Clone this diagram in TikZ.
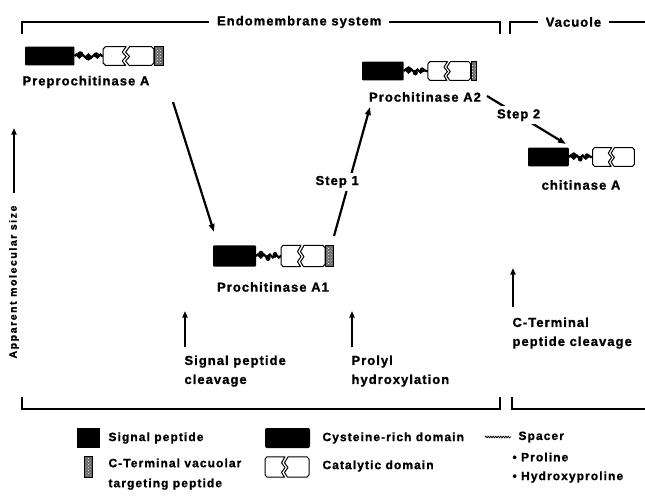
\documentclass[tikz,border=0pt]{standalone}
\usepackage{fontspec}
\setmainfont{Liberation Sans}
\newfontfamily\labfont[LetterSpace=8, BoldFeatures={FakeBold=1.2}]{Liberation Sans}
\newfontfamily\legfont[LetterSpace=9, BoldFeatures={FakeBold=1.2}]{Liberation Sans}
\newfontfamily\axfont[LetterSpace=15, BoldFeatures={FakeBold=1.2}]{Liberation Sans}
\usetikzlibrary{arrows.meta, positioning, patterns, decorations.pathmorphing}
\tikzset{
  every picture/.style={line width=1pt},
  lab/.style={font=\fontsize{13}{19}\selectfont\labfont\bfseries, inner sep=0pt, align=left},
  leg/.style={font=\fontsize{12}{20}\selectfont\legfont\bfseries, inner sep=0pt, align=left, anchor=west},
  arr/.style={-{Triangle[length=8pt, width=5.5pt]}, line width=2.2pt},
  ann/.style={-{Triangle[length=6.5pt, width=5pt]}, line width=1.8pt},
  brk/.style={line width=1.1pt},
  % black block + spacer + catalytic domain
  pics/core/.style={code={
    \fill[rounded corners=1pt] (0,-8.5) rectangle (43,8.5);
    \draw[line width=2.2pt, decorate, decoration={snake, amplitude=1.5pt, segment length=6pt}] (43,0) -- (68,0);
    \fill (48,-1.5) circle (2.8) (55,1.5) circle (2.6) (62,-1) circle (2.4);
    \draw[fill=white, line join=round] (68,-6.5) -- (70,-8.5) -- (88,-8.5) -- (84.5,-3.5) -- (88,0.5) -- (84.5,4.5) -- (87.5,8.5) -- (70,8.5) -- (68,6.5) -- cycle;
    \draw[fill=white, line join=round] (91,-8.5) -- (110,-8.5) -- (112,-6.5) -- (112,6.5) -- (110,8.5) -- (90.5,8.5) -- (87.5,4.5) -- (91,0.5) -- (87.5,-3.5) -- cycle;
  }},
  % C-terminal vacuolar targeting peptide
  pics/tail/.style={code={
    \draw[fill=black!60] (0,-8.5) rectangle (8,8.5);
    \path[pattern=crosshatch dots, pattern color=white] (1.5,-7) rectangle (6.5,7);
  }},
}

\begin{document}
\begin{tikzpicture}[x=1pt, y=-1pt]
  \useasboundingbox (0,0) rectangle (645,499);
  % ---------- compartments
  \draw[brk] (22,34) -- (22,22) -- node[pos=.58, lab, fill=white, inner xsep=8pt] (endo) {Endomembrane system} (500,22) -- (500,34);
  \draw[brk] (510,34) -- (510,22) -- node[pos=.47, lab, fill=white, inner xsep=8pt] (vac) {Vacuole} (645,22);
  \draw[brk] (22,397) |- (500,409) -- (500,397);
  \draw[brk] (512,397) |- (645,409);
  % ---------- proteins
  \pic[xscale=1.15, yscale=1.1] at (25,56) {core};
  \pic[xscale=1.15, yscale=1.1] at (154,56) {tail};
  \node[lab, anchor=west] (pre) at (22,82) {Preprochitinase A};
  \pic[yscale=1.25] at (213,256) {core};
  \pic[yscale=1.25] at (325,256) {tail};
  \node[lab] (pA1) at (273,287) {Prochitinase A1};
  \pic[xscale=0.97, yscale=1.1] at (362,71) {core};
  \pic[xscale=0.7, yscale=1.1] at (471,71) {tail};
  \node[lab] (pA2) at (425,97) {Prochitinase A2};
  \pic[xscale=0.95, yscale=1.1] at (528,157) {core};
  \node[lab] (chiA) at (581,185) {chitinase A};
  % ---------- processing steps
  \coordinate (preS) at (173,102);
  \coordinate (a1N) at (214,232);
  \coordinate (a1T) at (334,236);
  \coordinate (a2B) at (370,107);
  \coordinate (a2R) at (487,96);
  \coordinate (chiN) at (566,144);
  \draw[arr] (preS) -- (a1N);
  \draw[arr] (a1T) -- node[pos=.42, lab, fill=white, inner sep=3pt, xshift=-12pt] (st1) {Step 1} (a2B);
  \draw[arr] (a2R) -- node[pos=.4, lab, fill=white, inner sep=3pt] (st2) {Step 2} (chiN);
  % ---------- events
  \node[lab, anchor=north west] (sigc) at (184,355) {Signal peptide\\cleavage};
  \node[lab, anchor=north west] (proh) at (351,355) {Prolyl\\hydroxylation};
  \node[lab, anchor=north west] (ctc) at (512,317) {C-Terminal\\peptide cleavage};
  \coordinate (sigA) at (185,311);
  \coordinate (proA) at (352,311);
  \coordinate (ctA) at (513,268);
  \draw[ann] (sigc.north west -| sigA) ++(0,-8) -- (sigA);
  \draw[ann] (proh.north west -| proA) ++(0,-8) -- (proA);
  \draw[ann] (ctc.north west -| ctA) ++(0,-10) -- (ctA);
  % ---------- axis
  \node[font=\fontsize{10.5}{12}\selectfont\axfont\bfseries, rotate=90, inner sep=0pt] (axis) at (14,282) {Apparent molecular size};
  \coordinate (axT) at (14,128);
  \draw[ann] (axis.east) ++(0,-12) -- (axT);
  % ---------- legend
  \fill (77,428) rectangle (100,448);
  \node[leg] (lsig) at (108,438) {Signal peptide};
  \fill[rounded corners=2pt] (265,428) rectangle (310,448);
  \node[leg] (lcys) at (322,438) {Cysteine-rich domain};
  \draw[line width=0.8pt, decorate, decoration={snake, amplitude=0.8pt, segment length=2.5pt}] (485,437) -- (511,437);
  \node[leg] (lspa) at (518,437) {Spacer};
  \node[leg] (lpro) at (512,457) {\textbullet\ Proline};
  \node[leg] (lhyp) at (512,477) {\textbullet\ Hydroxyproline};
  \pic[yscale=1.2] at (84,467) {tail};
  \node[leg, anchor=north west] (lctp) at (108,458) {C-Terminal vacuolar\\targeting peptide};
  \begin{scope}[shift={(265,467)}, xshift=-68pt, yscale=1.2]
    \draw[fill=white, line join=round] (68,-6.5) -- (70,-8.5) -- (88,-8.5) -- (84.5,-3.5) -- (88,0.5) -- (84.5,4.5) -- (87.5,8.5) -- (70,8.5) -- (68,6.5) -- cycle;
    \draw[fill=white, line join=round] (91,-8.5) -- (110,-8.5) -- (112,-6.5) -- (112,6.5) -- (110,8.5) -- (90.5,8.5) -- (87.5,4.5) -- (91,0.5) -- (87.5,-3.5) -- cycle;
  \end{scope}
  \node[leg] (lcat) at (322,466) {Catalytic domain};
\end{tikzpicture}
\end{document}
